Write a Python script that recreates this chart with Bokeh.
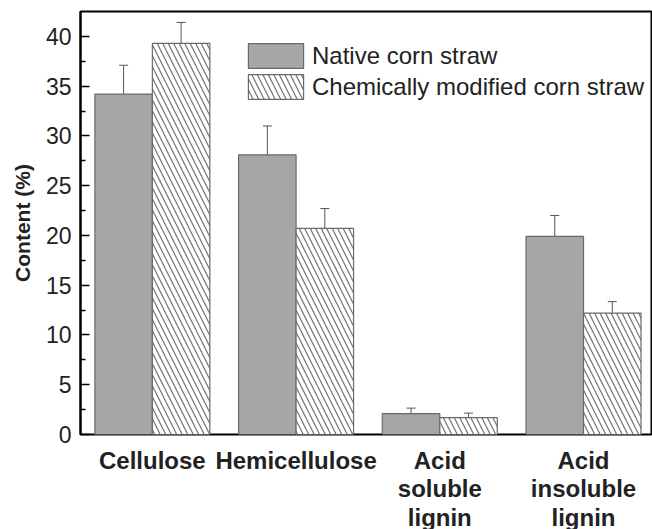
from bokeh.plotting import figure
from bokeh.layouts import column
from bokeh.models import (ColumnDataSource, FixedTicker, Whisker, TeeHead, Range1d, Legend)
from bokeh.core.properties import value
from bokeh.embed import file_html
from bokeh.resources import INLINE

categories = ["Cellulose", "Hemicellulose", "Acid\nsoluble\nlignin", "Acid\ninsoluble\nlignin"]
native = [34.2, 28.1, 2.1, 19.9]
native_err = [2.9, 2.9, 0.55, 2.1]
modified = [39.3, 20.7, 1.7, 12.2]
modified_err = [2.1, 2.0, 0.45, 1.15]
series_names = ["Native corn straw", "Chemically modified corn straw"]
y_ticks = [0, 5, 10, 15, 20, 25, 30, 35, 40]
y_minor = [2.5, 7.5, 12.5, 17.5, 22.5, 27.5, 32.5, 37.5]

centers = [i + 0.5 for i in range(len(categories))]
offset = 0.2
bar_w = 0.4

src_n = ColumnDataSource(dict(
    x=[c - offset for c in centers], top=native,
    upper=[v + e for v, e in zip(native, native_err)],
    lower=[v - e for v, e in zip(native, native_err)]))
src_m = ColumnDataSource(dict(
    x=[c + offset for c in centers], top=modified,
    upper=[v + e for v, e in zip(modified, modified_err)],
    lower=[v - e for v, e in zip(modified, modified_err)]))

xr = Range1d(0, 3.98)
p = figure(width=652, height=446, output_backend="svg", toolbar_location=None,
           x_range=xr, y_range=Range1d(0, 42.5), x_axis_location=None,
           min_border_left=80, min_border_top=11, min_border_right=0, min_border_bottom=12)
p.grid.visible = False
p.outline_line_color = "black"
p.outline_line_width = 2
p.background_fill_color = "white"
p.border_fill_color = "white"

rn = p.vbar(x="x", top="top", width=bar_w, source=src_n, fill_color="#a6a6a6",
            line_color="#6a6a6a", line_width=1.2)
rm = p.vbar(x="x", top="top", width=bar_w, source=src_m, fill_color="white",
            line_color="#6a6a6a", line_width=1.2, hatch_pattern="\\",
            hatch_color="#707070", hatch_scale=11, hatch_weight=1.2)

for s in (src_n, src_m):
    w = Whisker(source=s, base="x", upper="upper", lower="lower",
                line_color="#555555", line_width=1,
                upper_head=TeeHead(size=9, line_color="#555555", line_width=1),
                lower_head=TeeHead(size=9, line_color="#555555", line_width=1))
    p.add_layout(w)

legend = Legend(items=[(series_names[0], [rn]), (series_names[1], [rm])],
                location=(161, 332), padding=0, margin=0, spacing=0,
                glyph_width=69, glyph_height=31, label_standoff=2,
                label_text_font="Liberation Sans", label_text_font_size="24px",
                label_text_color="#222222", border_line_color=None,
                background_fill_alpha=0)
p.add_layout(legend)

# y axis
ya = p.yaxis[0]
ya.ticker = FixedTicker(ticks=y_ticks, minor_ticks=y_minor)
ya.axis_label = "Content (%)"
ya.axis_label_text_font = "Liberation Sans"
ya.axis_label_text_font_style = "bold"
ya.axis_label_text_font_size = "21px"
ya.axis_label_text_color = "#222222"
ya.axis_label_standoff = 9
ya.major_label_text_font = "Liberation Sans"
ya.major_label_text_font_size = "23px"
ya.major_label_text_color = "#222222"
ya.major_label_standoff = 9
ya.major_tick_in = 9
ya.major_tick_out = 0
ya.minor_tick_in = 5
ya.minor_tick_out = 0
ya.axis_line_width = 2
ya.major_tick_line_width = 1.5
ya.minor_tick_line_width = 1.5

# category names: a strip below, sharing the x scale (y measured in px from its top)
p2 = figure(width=652, height=83, output_backend="svg", toolbar_location=None,
            x_range=xr, y_range=Range1d(83, 0), x_axis_location=None, y_axis_location=None,
            min_border_left=80, min_border_top=0, min_border_right=0, min_border_bottom=0)
p2.grid.visible = False
p2.outline_line_color = None
p2.background_fill_color = "white"
p2.border_fill_color = "white"
cat_src = ColumnDataSource(dict(x=centers, y=[0] * len(centers), text=categories))
p2.text(x="x", y="y", text="text", source=cat_src,
        text_font=value("Liberation Sans"), text_font_style="bold",
        text_font_size="24px", text_color="#222222",
        text_align="center", text_baseline="top", text_line_height=1.07)

layout = column(p, p2, spacing=0)
open("out.html", "w").write(file_html(layout, INLINE))
